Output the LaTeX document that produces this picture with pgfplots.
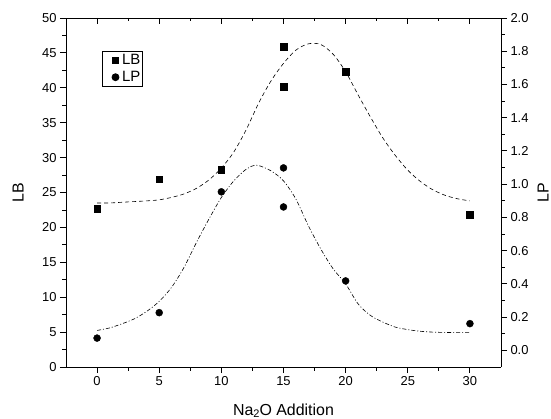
\documentclass[border=0pt]{standalone}
\usepackage{fontspec}
\setmainfont{Liberation Sans}
\usepackage{pgfplots}
\pgfplotsset{compat=1.18}
\begin{document}
\begin{tikzpicture}
\useasboundingbox (-66bp,-52bp) rectangle (485bp,367bp);
\pgfplotsset{
  common/.style={
    at={(0,0)}, anchor=south west,
    scale only axis, width=435bp, height=349bp,
    xmin=-2.5, xmax=32.5,
    xtick={0,5,...,30}, minor x tick num=1,
    axis line style={-, line width=0.9bp},
    major tick length=6bp, minor tick length=3.5bp,
    every tick/.style={black, line width=0.9bp},
    /pgf/number format/assume math mode=true,
    tick label style={font=\fontsize{13}{15}\selectfont},
    label style={font=\fontsize{16}{19}\selectfont},
  }
}
% left axis: LB
\begin{axis}[common,
  axis y line*=left, axis x line*=bottom, tick align=outside,
  ymin=0, ymax=50, ytick={0,5,...,50}, minor y tick num=1,
  xlabel={Na\raisebox{-0.15ex}{\fontsize{11}{12}\selectfont 2}O Addition},
  ylabel={LB},
  xlabel style={at={(axis description cs:0.5,-0.125)}, anchor=center},
  ylabel style={at={(axis description cs:-0.110,0.5)}, anchor=center, rotate=0},
]
\addplot[only marks, mark=square*, mark size=3.3bp, black] coordinates {
(0,22.7) (5,26.9) (10,28.3) (15,45.9) (15,40.2) (20,42.3) (30,21.8)};
\addplot[black, line width=0.6bp, dash pattern=on 4bp off 3bp, smooth, tension=0.5] coordinates {
(0,23.5) (1,23.5) (2,23.6) (3,23.7) (4,23.8) (5,23.95) (6,24.3) (7,24.8) (8,25.6) (9,26.8) (10,28.5) (11,30.8) (12,34.0) (13,37.8) (14,41.0) (15,43.5) (16,45.4) (17,46.3) (18,46.2) (19,44.8) (20,42.3) (21,39.0) (22,35.8) (23,32.8) (24,30.3) (25,28.2) (26,26.6) (27,25.4) (28,24.6) (29,24.1) (30,23.8)};
\end{axis}
% right axis: LP
\begin{axis}[common,
  axis y line*=right, axis x line=none, tick align=outside,
  ymin=-0.1, ymax=2.0, ytick={0,0.2,...,2.01}, minor y tick num=1,
  yticklabel style={/pgf/number format/fixed, /pgf/number format/fixed zerofill, /pgf/number format/precision=1},
  ylabel={LP},
  ylabel style={at={(axis description cs:1.0966,0.5)}, anchor=center, rotate=0},
  legend style={at={(axis description cs:0.083,0.905)}, anchor=north west, draw=black, line width=0.8bp,
    font=\fontsize{15}{17}\selectfont, inner xsep=1bp, inner ysep=1.5bp, row sep=2bp,
    legend cell align=left, nodes={inner sep=1.5bp}},
  legend image code/.code={\path[draw=none,fill=none] (0bp,-1bp) rectangle (17bp,1bp); \draw[mark repeat=2,mark phase=2,#1] plot coordinates {(0bp,0bp)(12bp,0bp)(17bp,0bp)};},
]
\addlegendimage{only marks, mark=square*, mark size=3.3bp, black}
\addlegendentry{LB}
\addplot[only marks, mark=*, mark size=3.5bp, black] coordinates {
(0,0.074) (5,0.227) (10,0.954) (15,1.098) (15,0.863) (20,0.418) (30,0.161)};
\addlegendentry{LP}
\addplot[black, line width=0.6bp, dash pattern=on 4bp off 2bp on 1bp off 2bp, smooth, tension=0.5, forget plot] coordinates {
(0,0.12) (1,0.135) (2,0.16) (3,0.19) (4,0.235) (5,0.295) (6,0.38) (7,0.50) (8,0.65) (9,0.79) (10,0.92) (11,1.02) (12,1.09) (12.85,1.114) (14,1.08) (15,1.02) (16,0.91) (17,0.75) (18,0.61) (19,0.49) (20,0.40) (21,0.28) (22,0.21) (23,0.17) (24,0.14) (25,0.125) (26,0.115) (27,0.11) (28,0.108) (29,0.107) (30,0.107)};
\end{axis}
% top axis: inward ticks only
\begin{axis}[common,
  axis x line*=top, axis y line=none, tick align=inside,
  xticklabels={}, ymin=0, ymax=1,
]
\end{axis}
\end{tikzpicture}
\end{document}
